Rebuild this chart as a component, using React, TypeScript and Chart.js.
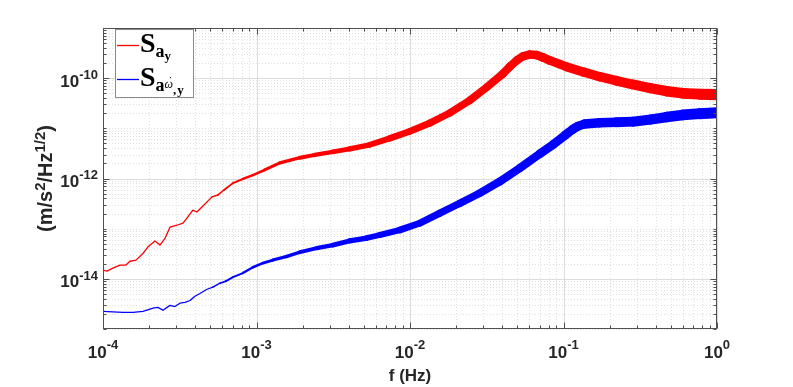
import React, { useEffect, useRef } from "react";
import { Chart, registerables } from "chart.js";

Chart.register(...registerables);

// ---- data (frequency in Hz, ASD in m/s^2/Hz^1/2) ----
const freqRed = [
  1.0e-4, 1.06e-4, 1.16e-4, 1.29e-4, 1.41e-4, 1.5e-4, 1.64e-4, 1.82e-4, 1.96e-4, 2.18e-4,
  2.35e-4, 2.54e-4, 2.73e-4, 3.03e-4, 3.32e-4, 3.52e-4, 3.85e-4, 4.09e-4, 4.48e-4, 5.13e-4,
  5.61e-4, 6.14e-4, 7.02e-4, 8.15e-4, 9.48e-4, 1.13e-3, 1.42e-3, 1.92e-3, 2.4e-3, 3.14e-3,
  4.05e-3, 5.47e-3, 7.38e-3, 9.97e-3, 1.35e-2, 1.82e-2, 2.45e-2, 3.16e-2, 4.02e-2, 4.47e-2,
  4.95e-2, 5.42e-2, 6.02e-2, 6.7e-2, 7.33e-2, 8.13e-2, 9.45e-2, 0.105, 0.135, 0.172, 0.22,
  0.282, 0.37, 0.47, 0.6, 0.771, 1.0,
];
const psdRed = [
  1.49e-14, 1.42e-14, 1.63e-14, 1.88e-14, 1.88e-14, 2.24e-14, 2.36e-14, 3.2e-14, 4.3e-14, 5.7e-14,
  4.7e-14, 6.5e-14, 1.07e-13, 1.17e-13, 1.29e-13, 1.63e-13, 2.34e-13, 2.15e-13, 2.82e-13, 4.3e-13,
  4.7e-13, 5.9e-13, 8.1e-13, 9.8e-13, 1.17e-12, 1.48e-12, 2.05e-12, 2.6e-12, 2.95e-12, 3.4e-12,
  3.9e-12, 4.7e-12, 6.3e-12, 8.7e-12, 1.28e-11, 2.03e-11, 3.6e-11, 6.6e-11, 1.22e-10, 1.7e-10,
  2.25e-10, 2.72e-10, 2.95e-10, 2.88e-10, 2.6e-10, 2.26e-10, 1.9e-10, 1.68e-10, 1.32e-10, 1.07e-10, 8.9e-11,
  7.5e-11, 6.3e-11, 5.5e-11, 5.0e-11, 4.8e-11, 4.7e-11,
];
const freqBlue = [
  1.0e-4, 1.16e-4, 1.35e-4, 1.57e-4, 1.82e-4, 2.12e-4, 2.28e-4, 2.46e-4, 2.73e-4, 2.94e-4,
  3.17e-4, 3.42e-4, 3.69e-4, 3.97e-4, 4.28e-4, 4.76e-4, 5.2e-4, 5.78e-4, 6.33e-4, 7.02e-4,
  8.15e-4, 9.48e-4, 1.1e-3, 1.28e-3, 1.58e-3, 1.92e-3, 2.47e-3, 3.14e-3, 4.05e-3, 5.23e-3,
  6.36e-3, 8.59e-3, 1.16e-2, 1.56e-2, 2.11e-2, 2.85e-2, 3.84e-2, 5.19e-2, 7.0e-2, 8.6e-2,
  0.103, 0.115, 0.124, 0.137, 0.172, 0.22, 0.282, 0.37, 0.47, 0.6, 0.771, 1.0,
];
const psdBlue = [
  2.25e-15, 2.2e-15, 2.15e-15, 2.15e-15, 2.25e-15, 2.6e-15, 2.7e-15, 2.36e-15, 2.96e-15, 2.8e-15,
  3.27e-15, 3.4e-15, 3.7e-15, 4.5e-15, 5.1e-15, 6.2e-15, 6.8e-15, 8.2e-15, 9.0e-15, 1.08e-14,
  1.3e-14, 1.7e-14, 2.06e-14, 2.37e-14, 2.8e-14, 3.4e-14, 4.1e-14, 4.7e-14, 5.7e-14, 6.5e-14,
  7.5e-14, 9.4e-14, 1.29e-13, 2.03e-13, 3.2e-13, 5.1e-13, 8.7e-13, 1.61e-12, 3.1e-12, 4.8e-12,
  7.4e-12, 9.6e-12, 1.1e-11, 1.22e-11, 1.29e-11, 1.32e-11, 1.36e-11, 1.5e-11, 1.68e-11, 1.85e-11, 1.96e-11, 2.05e-11,
];

// ---- axes / ticks ----
const xMin = 1e-4;
const xMax = 1;
const yMin = 1e-15;
const yMax = 1e-9;
const xTickDecades = [-4, -3, -2, -1, 0];
const yTickDecades = [-14, -12, -10];
const xGridDecades = [-4, -3, -2, -1];
const yGridDecades = [-15, -14, -13, -12, -11, -10];
const xTitle = "f (Hz)";
const yTitleParts: [string, boolean][] = [
  ["(m/s", false],
  ["2", true],
  ["/Hz", false],
  ["1/2", true],
  [")", false],
];

const SANS = '"Liberation Sans", Arial, Helvetica, sans-serif';
const SERIF = '"Liberation Serif", "Times New Roman", serif';

const bandWidth = (f: number) => {
  const l = Math.log10(f);
  if (l < -3.3) return 1.3;
  if (l < -2) return 1.3 + (l + 3.3) * 4.2;
  return Math.min(6.76 + (l + 2) * 2.2, 11.2);
};

const expStr = (d: number) => (d < 0 ? "-" + String(-d) : String(d));

function drawPow(
  ctx: CanvasRenderingContext2D,
  exp: string,
  x: number,
  baseY: number,
  supY: number,
  align: "center" | "right",
  baseSize: number,
  supSize: number
) {
  ctx.font = `bold ${baseSize}px ${SANS}`;
  const wb = ctx.measureText("10").width;
  ctx.font = `bold ${supSize}px ${SANS}`;
  const ws = ctx.measureText(exp).width;
  const total = wb + ws;
  const x0 = align === "center" ? x - total / 2 : x - total;
  ctx.textAlign = "left";
  ctx.textBaseline = "alphabetic";
  ctx.font = `bold ${baseSize}px ${SANS}`;
  ctx.fillText("10", x0, baseY);
  ctx.font = `bold ${supSize}px ${SANS}`;
  ctx.fillText(exp, x0 + wb, supY);
}

const frame = {
  id: "matlabFrame",
  beforeDatasetsDraw(chart: any) {
    const { ctx, chartArea: a, scales } = chart;
    const xs = scales.x;
    const ys = scales.y;
    ctx.save();
    ctx.lineWidth = 1;
    // minor grid (dotted)
    ctx.strokeStyle = "#e0e0e0";
    ctx.setLineDash([1, 2]);
    ctx.beginPath();
    for (const d of xGridDecades) {
      for (let m = 2; m <= 9; m++) {
        const px = Math.round(xs.getPixelForValue(m * Math.pow(10, d))) + 0.5;
        ctx.moveTo(px, a.top);
        ctx.lineTo(px, a.bottom);
      }
    }
    for (const d of yGridDecades) {
      for (let m = 1; m <= 9; m++) {
        if (m === 1 && yTickDecades.includes(d)) continue;
        const py = Math.round(ys.getPixelForValue(m * Math.pow(10, d))) + 0.5;
        ctx.moveTo(a.left, py);
        ctx.lineTo(a.right, py);
      }
    }
    ctx.stroke();
    // major grid (solid)
    ctx.setLineDash([]);
    ctx.strokeStyle = "#dcdcdc";
    ctx.beginPath();
    for (const d of xTickDecades) {
      const px = Math.round(xs.getPixelForValue(Math.pow(10, d))) + 0.5;
      ctx.moveTo(px, a.top);
      ctx.lineTo(px, a.bottom);
    }
    for (const d of yTickDecades) {
      const py = Math.round(ys.getPixelForValue(Math.pow(10, d))) + 0.5;
      ctx.moveTo(a.left, py);
      ctx.lineTo(a.right, py);
    }
    ctx.stroke();
    ctx.restore();
  },
  afterDatasetsDraw(chart: any) {
    const { ctx, chartArea: a, scales } = chart;
    const xs = scales.x;
    const ys = scales.y;
    ctx.save();
    // box
    ctx.strokeStyle = "#505050";
    ctx.lineWidth = 1;
    const L = Math.round(a.left) + 0.5;
    const R = Math.round(a.right) - 0.5;
    const T = Math.round(a.top) + 0.5;
    const B = Math.round(a.bottom) - 0.5;
    ctx.strokeRect(L, T, R - L, B - T);
    // ticks
    ctx.beginPath();
    for (const d of xGridDecades.concat([0])) {
      for (let m = 1; m <= 9; m++) {
        if (d === 0 && m > 1) break;
        const v = m * Math.pow(10, d);
        const px = Math.round(xs.getPixelForValue(v)) + 0.5;
        const len = m === 1 ? 6 : 3;
        ctx.moveTo(px, B);
        ctx.lineTo(px, B - len);
        ctx.moveTo(px, T);
        ctx.lineTo(px, T + len);
      }
    }
    for (const d of yGridDecades.concat([-9])) {
      for (let m = 1; m <= 9; m++) {
        if (d === -9 && m > 1) break;
        const v = m * Math.pow(10, d);
        const py = Math.round(ys.getPixelForValue(v)) + 0.5;
        const len = m === 1 && yTickDecades.includes(d) ? 6 : 3;
        ctx.moveTo(L, py);
        ctx.lineTo(L + len, py);
        ctx.moveTo(R, py);
        ctx.lineTo(R - len, py);
      }
    }
    ctx.stroke();

    // tick labels
    ctx.fillStyle = "#262626";
    for (const d of xTickDecades) {
      const px = xs.getPixelForValue(Math.pow(10, d));
      drawPow(ctx, expStr(d), px, a.bottom + 29, a.bottom + 19.5, "center", 17, 13);
    }
    for (const d of yTickDecades) {
      const py = ys.getPixelForValue(Math.pow(10, d));
      drawPow(ctx, expStr(d), a.left - 5, py + 8.6, py + 0.8, "right", 17, 13);
    }

    // x title
    ctx.font = `bold 17px ${SANS}`;
    ctx.textAlign = "center";
    ctx.textBaseline = "alphabetic";
    ctx.fillText(xTitle, (a.left + a.right) / 2, a.bottom + 52);

    // y title (rotated)
    ctx.save();
    ctx.translate(52, (a.top + a.bottom) / 2);
    ctx.rotate(-Math.PI / 2);
    ctx.textAlign = "left";
    let total = 0;
    for (const [t, sup] of yTitleParts) {
      ctx.font = `bold ${sup ? 15 : 20}px ${SANS}`;
      total += ctx.measureText(t).width;
    }
    let cx = -total / 2;
    for (const [t, sup] of yTitleParts) {
      ctx.font = `bold ${sup ? 15 : 20}px ${SANS}`;
      ctx.fillText(t, cx, sup ? -7.5 : 0);
      cx += ctx.measureText(t).width;
    }
    ctx.restore();

    // legend
    const lx = Math.round(a.left) + 12;
    const ly = Math.round(a.top) + 1;
    const lw = 78;
    const lh = 68;
    ctx.fillStyle = "#ffffff";
    ctx.fillRect(lx, ly, lw, lh);
    ctx.strokeStyle = "#8a8a8a";
    ctx.strokeRect(lx + 0.5, ly + 0.5, lw, lh);
    const items = chart.data.datasets;
    const rows = [16.5, 50.5];
    items.forEach((ds: any, i: number) => {
      const yy = ly + rows[i];
      ctx.strokeStyle = ds.borderColor;
      ctx.lineWidth = 1.3;
      ctx.beginPath();
      ctx.moveTo(lx + 2, yy);
      ctx.lineTo(lx + 24, yy);
      ctx.stroke();
      ctx.fillStyle = "#000";
      ctx.textAlign = "left";
      let x = lx + 25;
      const sBase = yy + 6.5;
      ctx.font = `bold 28px ${SERIF}`;
      ctx.fillText("S", x, sBase);
      x += ctx.measureText("S").width;
      ctx.font = `bold 18px ${SERIF}`;
      ctx.fillText("a", x, sBase + 5);
      x += ctx.measureText("a").width;
      if (i === 0) {
        ctx.font = `bold 13px ${SERIF}`;
        ctx.fillText("y", x, sBase + 7.5);
      } else {
        ctx.font = `italic 12px ${SERIF}`;
        const wOm = ctx.measureText("\u03C9").width;
        ctx.fillText("\u03C9", x, sBase + 2);
        ctx.textAlign = "center";
        ctx.fillText("\u02D9", x + wOm / 2 + 1, sBase - 1);
        ctx.textAlign = "left";
        x += wOm;
        ctx.font = `bold 13px ${SERIF}`;
        ctx.fillText(",", x, sBase + 8);
        x += ctx.measureText(",").width + 1;
        ctx.fillText("y", x, sBase + 8);
      }
    });
    ctx.restore();
  },
};

export default function App() {
  const ref = useRef<HTMLCanvasElement>(null);
  useEffect(() => {
    if (!ref.current) return;
    const mk = (fs: number[], vs: number[]) => fs.map((f, i) => ({ x: f, y: vs[i] }));
    const seg = {
      borderWidth: (c: any) => bandWidth(Math.sqrt(c.p0.parsed.x * c.p1.parsed.x)),
    };
    const chart = new Chart(ref.current, {
      type: "line",
      data: {
        datasets: [
          {
            label: "S_a_y",
            data: mk(freqRed, psdRed),
            borderColor: "#ff0000",
            borderWidth: 1.3,
            pointRadius: 0,
            borderCapStyle: "round",
            borderJoinStyle: "round",
            tension: 0,
            segment: seg,
          } as any,
          {
            label: "S_a_wdot_y",
            data: mk(freqBlue, psdBlue),
            borderColor: "#0000ff",
            borderWidth: 1.3,
            pointRadius: 0,
            borderCapStyle: "round",
            borderJoinStyle: "round",
            tension: 0,
            segment: seg,
          } as any,
        ],
      },
      options: {
        animation: false,
        responsive: false,
        maintainAspectRatio: false,
        layout: { padding: { left: 103, right: 76, top: 28, bottom: 58 } },
        plugins: { legend: { display: false }, tooltip: { enabled: false } },
        scales: {
          x: {
            type: "logarithmic",
            min: xMin,
            max: xMax,
            ticks: { display: false },
            grid: { display: false, drawTicks: false },
            border: { display: false },
          },
          y: {
            type: "logarithmic",
            min: yMin,
            max: yMax,
            ticks: { display: false },
            grid: { display: false, drawTicks: false },
            border: { display: false },
          },
        },
      },
      plugins: [frame as any],
    });
    return () => chart.destroy();
  }, []);
  return (
    <div style={{ position: "absolute", left: 0, top: 0, width: 793, height: 387, background: "#fff" }}>
      <canvas ref={ref} width={793} height={387} style={{ display: "block", width: 793, height: 387 }} />
    </div>
  );
}
